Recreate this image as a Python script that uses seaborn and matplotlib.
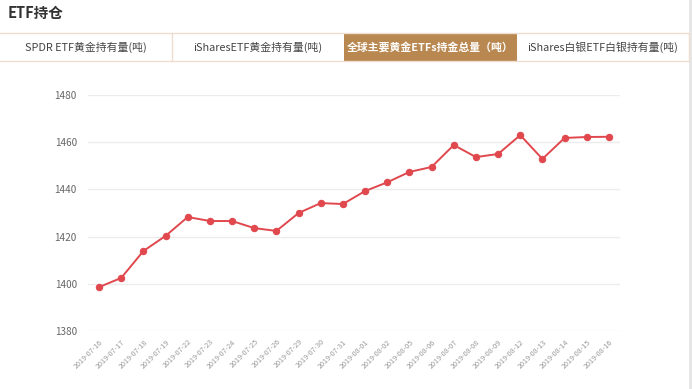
import matplotlib
matplotlib.use("Agg")
import matplotlib.pyplot as plt
import seaborn as sns
import pandas as pd
from matplotlib.patches import Rectangle

dates = ["2019-07-16", "2019-07-17", "2019-07-18", "2019-07-19", "2019-07-22", "2019-07-23",
         "2019-07-24", "2019-07-25", "2019-07-26", "2019-07-29", "2019-07-30", "2019-07-31",
         "2019-08-01", "2019-08-02", "2019-08-05", "2019-08-06", "2019-08-07", "2019-08-08",
         "2019-08-09", "2019-08-12", "2019-08-13", "2019-08-14", "2019-08-15", "2019-08-16"]
holdings = [1398.6, 1402.5, 1413.9, 1420.3, 1428.3, 1426.6, 1426.6, 1423.6, 1422.4, 1430.0,
            1434.2, 1433.8, 1439.3, 1443.0, 1447.4, 1449.5, 1458.8, 1453.7, 1455.0, 1463.0,
            1452.9, 1461.8, 1462.2, 1462.3]
tabs = ["SPDR ETF黄金持有量(吨)", "iSharesETF黄金持有量(吨)", "全球主要黄金ETFs持金总量（吨）", "iShares白银ETF白银持有量(吨)"]
yticks = [1380, 1400, 1420, 1440, 1460, 1480]

sns.set_theme(style="white")
plt.rcParams['font.family'] = ['Noto Sans CJK SC', 'DejaVu Sans']

W, H = 692, 389
fig = plt.figure(figsize=(W / 100, H / 100), dpi=100)
fig.patch.set_facecolor("white")

def fx(x):
    return x / W

def fy(y):
    return 1 - y / H

# Title
fig.text(fx(8), fy(13), "ETF持仓", fontsize=10.5, fontweight="bold", color="#333333", va="center", ha="left")

# Tabs
border = "#eedccf"
tab_edges = [0, 172, 344, 517, 689]
top, bot = 33, 61
for i, label in enumerate(tabs):
    x0, x1 = tab_edges[i], tab_edges[i + 1]
    active = (i == 2)
    if active:
        fig.patches.append(Rectangle((fx(x0), fy(bot)), fx(x1 - x0), (bot - top) / H,
                                     transform=fig.transFigure, facecolor="#b98850",
                                     edgecolor="none", zorder=1))
    fig.text(fx((x0 + x1) / 2), fy((top + bot) / 2), label, fontsize=7.8,
             fontweight="bold" if active else "normal",
             color="white" if active else "#444444", ha="center", va="center", zorder=3)
fig.add_artist(plt.Line2D([0, fx(689)], [fy(top), fy(top)], color=border, lw=1, transform=fig.transFigure))
fig.add_artist(plt.Line2D([0, fx(689)], [fy(bot), fy(bot)], color=border, lw=1, transform=fig.transFigure))
for xe in [172, 689]:
    fig.add_artist(plt.Line2D([fx(xe), fx(xe)], [fy(bot), fy(top)], color=border, lw=1, transform=fig.transFigure))

# scrollbar strip
fig.patches.append(Rectangle((fx(689), 0), fx(3), 1, transform=fig.transFigure,
                             facecolor="#e6e6e6", edgecolor="none"))

# Chart
ax = fig.add_axes([fx(88), fy(331), fx(620 - 88), (331 - 95) / H])
df = pd.DataFrame({"date": dates, "value": holdings})
df["idx"] = range(len(df))
sns.lineplot(data=df, x="idx", y="value", ax=ax, color="#e0484e", lw=1.4,
             marker="o", markersize=4.6, markeredgecolor="#e0484e", markerfacecolor="#e0484e")
ax.set_xlim(-0.5, len(dates) - 0.5)
ax.set_ylim(1380, 1480)
ax.set_yticks(yticks)
ax.set_yticklabels([str(v) for v in yticks], fontsize=7.2, color="#666666")
ax.set_xticks(range(len(dates)))
ax.set_xticklabels(dates, rotation=45, ha="right", rotation_mode="anchor", fontsize=5.2, color="#999999")
ax.tick_params(axis="x", length=0, pad=5)
ax.tick_params(axis="y", length=0, pad=8)
ax.grid(axis="y", color="#ececec", lw=1)
ax.grid(axis="x", visible=False)
for s in ax.spines.values():
    s.set_visible(False)
ax.set_xlabel("")
ax.set_ylabel("")

fig.savefig("out.png", dpi=100)
